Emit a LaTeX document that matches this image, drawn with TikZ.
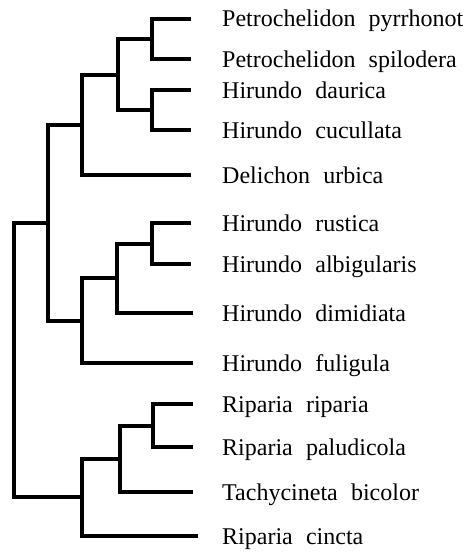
\documentclass[tikz,border=0pt]{standalone}
\usepackage{fontspec}
\setmainfont{Liberation Serif}[WordSpace=2.2]
\usetikzlibrary{positioning}

\begin{document}
\begin{tikzpicture}[x=1pt,y=-1pt,
    branch/.style={line width=4pt,line join=miter},
    taxon/.style={anchor=base west,inner sep=0pt,font=\fontsize{24}{24}\selectfont}]
  \useasboundingbox (0,0) rectangle (473,554);
  \clip (0,0) rectangle (473,554);
  % leaves: branch end and species name
  \foreach \n/\x/\y/\name in {
      1/191/19/{Petrochelidon pyrrhonot},
      2/191/59/{Petrochelidon spilodera},
      3/191/90/{Hirundo daurica},
      4/191/130/{Hirundo cucullata},
      5/191/175/{Delichon urbica},
      6/191/223/{Hirundo rustica},
      7/191/264/{Hirundo albigularis},
      8/193/313/{Hirundo dimidiata},
      9/193/363/{Hirundo fuligula},
      10/193/404/{Riparia riparia},
      11/193/447/{Riparia paludicola},
      12/193/492/{Tachycineta bicolor},
      13/198/536/{Riparia cincta}}{
    \coordinate (l\n) at (\x,\y);
    \node[taxon] (t\n) at (222,\y+8) {\name};
  }
  % internal nodes
  \coordinate (A) at (152,39);
  \coordinate (B) at (152,110);
  \coordinate (C) at (118,74.5);
  \coordinate (D) at (82,124.75);
  \coordinate (E) at (152,243.5);
  \coordinate (F) at (117,278.25);
  \coordinate (G) at (82,320.6);
  \coordinate (H) at (48,222.7);
  \coordinate (I) at (153,425.5);
  \coordinate (J) at (120,458.75);
  \coordinate (K) at (82,497.4);
  \coordinate (R) at (14,360);
  % branches
  \draw[branch] (l1) -| (A) |- (l2);
  \draw[branch] (l3) -| (B) |- (l4);
  \draw[branch] (A) -| (C) |- (B);
  \draw[branch] (C) -| (D) |- (l5);
  \draw[branch] (l6) -| (E) |- (l7);
  \draw[branch] (E) -| (F) |- (l8);
  \draw[branch] (F) -| (G) |- (l9);
  \draw[branch] (D) -| (H) |- (G);
  \draw[branch] (l10) -| (I) |- (l11);
  \draw[branch] (I) -| (J) |- (l12);
  \draw[branch] (J) -| (K) |- (l13);
  \draw[branch] (H) -| (R) |- (K);
\end{tikzpicture}
\end{document}
